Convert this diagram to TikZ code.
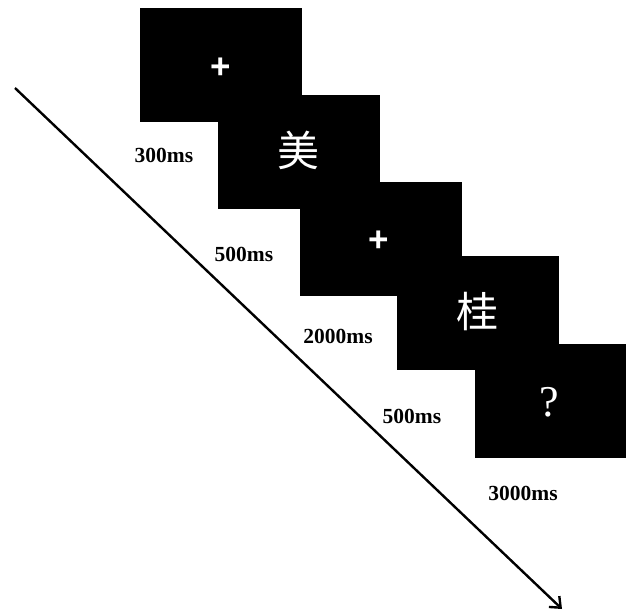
\documentclass[tikz,border=0pt]{standalone}
\usepackage{fontspec}
\setmainfont{Liberation Serif}
\newfontfamily\cjk{Noto Sans CJK SC}
\newfontfamily\plusfont{Liberation Sans}
\usepackage{tikz}
\usetikzlibrary{arrows.meta}
\tikzstyle{myscreen} = [rectangle, fill=black, minimum width=162pt, minimum height=114pt, inner sep=0pt]
\tikzstyle{mystim} = [text=white, inner sep=0pt, font=\fontsize{44}{44}\selectfont]
\tikzstyle{mytime} = [inner sep=0pt, font=\fontsize{21.5}{21.5}\selectfont\bfseries]

\begin{document}
\begin{tikzpicture}[x=1pt, y=-1pt]
        \useasboundingbox (0,0) rectangle (626,611);

        % Screens
        \node[myscreen] (s_1) at (221,65) {};
        \node[myscreen] (s_2) at (299,151.5) {};
        \node[myscreen] (s_3) at (380.5,239) {};
        \node[myscreen] (s_4) at (477.5,312.5) {};
        \node[myscreen, minimum width=151pt] (s_5) at (550.5,400.5) {};

        % Stimuli
        \node[mystim, font=\plusfont\bfseries\fontsize{35}{35}\selectfont] (f_1) at (221,68) {+};
        \node[mystim, font=\cjk\fontsize{42}{42}\selectfont] (w_1) at (298,150) {美};
        \node[mystim, font=\plusfont\bfseries\fontsize{35}{35}\selectfont] (f_2) at (379,241) {+};
        \node[mystim, font=\cjk\fontsize{42}{42}\selectfont] (w_2) at (477,312) {桂};
        \node[mystim] (q_1) at (549,402) {?};

        % Durations
        \node[mytime] (d_1) at (164,155) {300ms};
        \node[mytime] (d_2) at (244,254) {500ms};
        \node[mytime] (d_3) at (338,336) {2000ms};
        \node[mytime] (d_4) at (412,416) {500ms};
        \node[mytime] (d_5) at (523,493) {3000ms};

        % Time axis
        \coordinate (t_0) at (15,88);
        \coordinate (t_1) at (562,609);
        \draw[line width=2.4pt, -{Straight Barb[length=9pt, width=15pt]}] (t_0) -- (t_1);
\end{tikzpicture}
\end{document}
